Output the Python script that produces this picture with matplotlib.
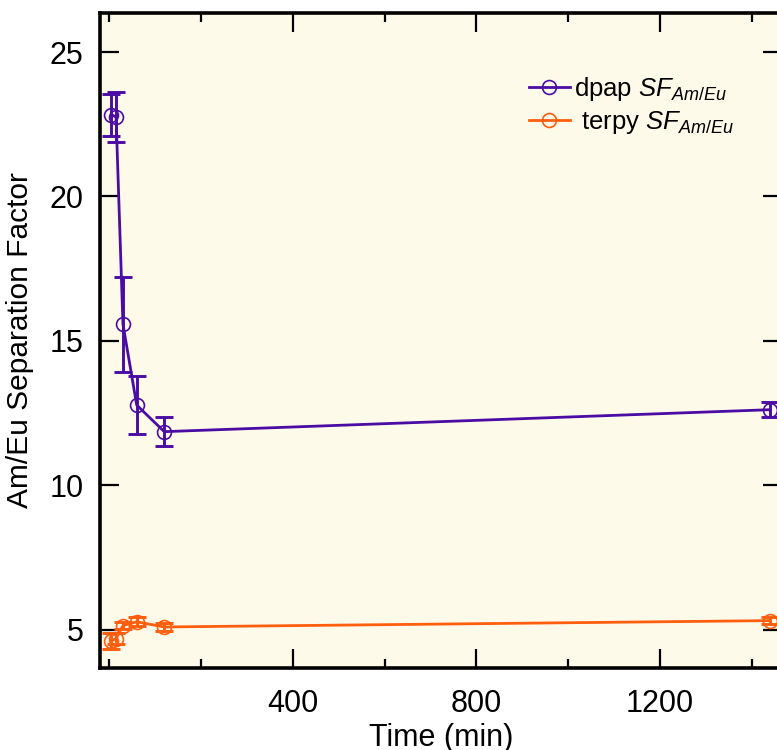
import matplotlib
matplotlib.use("Agg")
import matplotlib.pyplot as plt
from matplotlib.ticker import MultipleLocator

plt.rcParams['font.family'] = ['Liberation Sans', 'DejaVu Sans']
plt.rcParams['mathtext.fontset'] = 'custom'
plt.rcParams['mathtext.rm'] = 'Liberation Sans'
plt.rcParams['mathtext.it'] = 'Liberation Sans:italic'

# time points (min)
time = [5, 15, 30, 60, 120, 1440]

# dpap separation factor and error
dpap_sf = [22.83, 22.75, 15.58, 12.78, 11.86, 12.62]
dpap_err = [0.72, 0.85, 1.65, 1.0, 0.5, 0.27]

# terpy separation factor and error
terpy_sf = [4.62, 4.70, 5.15, 5.28, 5.10, 5.32]
terpy_err = [0.28, 0.2, 0.12, 0.15, 0.13, 0.12]

purple = '#4b0ca3'
orange = '#ff5e0e'

fig = plt.figure(figsize=(7.77, 7.5), dpi=100)
ax = fig.add_axes([100 / 777, 82 / 750, 682 / 777, 655 / 750])
ax.set_facecolor('#fefaea')

for y, err, c, lab in [(dpap_sf, dpap_err, purple, r'dpap $SF_{Am/Eu}$'),
                       (terpy_sf, terpy_err, orange, r' terpy $SF_{Am/Eu}$')]:
    ax.errorbar(time, y, yerr=err, fmt='none', ecolor=c, elinewidth=2.1,
                capsize=6.8, capthick=2.1, zorder=3)
    ax.plot(time, y, color=c, lw=2.0, marker='o', ms=10, mfc='none',
            mec=c, mew=1.2, label=lab, zorder=4)

ax.set_xlim(-20, 1466)
ax.set_ylim(3.68, 26.35)
ax.xaxis.set_major_locator(MultipleLocator(400))
ax.xaxis.set_minor_locator(MultipleLocator(200))
ax.yaxis.set_major_locator(MultipleLocator(5))

ax.set_xticks([400, 800, 1200])
ax.tick_params(axis='both', which='major', direction='in', length=13.5,
               width=1.6, labelsize=22, top=True, right=True)
ax.tick_params(axis='x', which='minor', direction='in', length=6.5,
               width=1.6, top=True)
ax.tick_params(axis='x', which='major', pad=15)
ax.tick_params(axis='y', which='major', pad=12)
for s in ax.spines.values():
    s.set_linewidth(2.6)

ax.set_xlabel('Time (min)', fontsize=22, labelpad=3)
ax.set_ylabel('Am/Eu Separation Factor', fontsize=21.5, labelpad=11)

ax.legend(loc='upper left', bbox_to_anchor=(516 / 777, 1 - 62 / 750),
          bbox_transform=fig.transFigure, frameon=False, fontsize=18.5,
          handlelength=1.6, handletextpad=0.15, labelspacing=0.25,
          borderpad=0)

fig.savefig('out.png', dpi=100)
